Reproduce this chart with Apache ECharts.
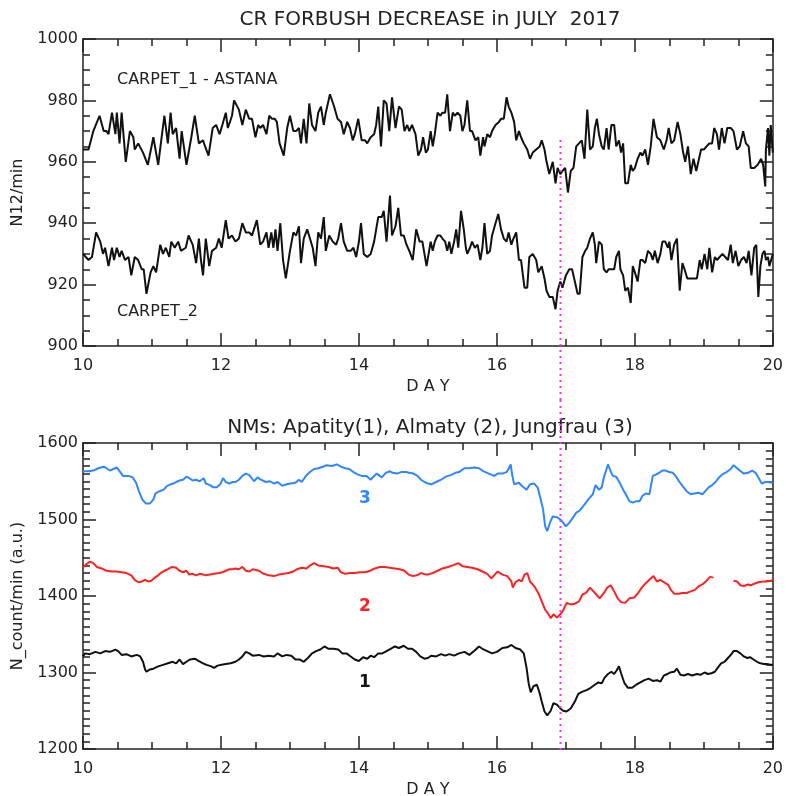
<!DOCTYPE html>
<html>
<head>
<meta charset="utf-8" />
<title>CR FORBUSH DECREASE in JULY 2017</title>
<script src="https://cdn.jsdelivr.net/npm/echarts@6/dist/echarts.min.js"></script>
<style>
	html, body { margin: 0; padding: 0; background: #fff; height: 796px; overflow: hidden; }
	#top { width: 786px; height: 400px; }
	#bot { width: 786px; height: 430px; }
</style>
</head>
<body>
<div id="top"></div>
<div id="bot"></div>
<script>
// CARPET detectors, N12/min, [day of July, value]
var carpet1 = [[10.00,964],[10.08,964],[10.15,970],[10.24,975],[10.30,970],[10.34,970],[10.37,969],[10.42,976],[10.47,969],[10.49,976],[10.53,966],[10.56,976],[10.62,960],[10.68,970],[10.73,968],[10.75,964],[10.80,966],[10.87,963],[10.94,959],[11.02,968],[11.09,959],[11.14,968],[11.18,975],[11.23,966],[11.27,976],[11.30,969],[11.35,971],[11.40,961],[11.43,970],[11.50,959],[11.57,968],[11.62,975],[11.68,966],[11.74,967],[11.77,965],[11.82,962],[11.88,971],[11.93,972],[11.98,969],[12.02,972],[12.07,976],[12.10,971],[12.16,975],[12.19,980],[12.26,977],[12.31,972],[12.36,977],[12.41,974],[12.45,974],
	[12.50,968],[12.54,972],[12.57,971],[12.61,972],[12.66,969],[12.70,975],[12.74,974],[12.78,974],[12.81,973],[12.85,966],[12.91,962],[12.96,971],[13.00,975],[13.05,970],[13.09,970],[13.13,971],[13.16,966],[13.20,974],[13.24,966],[13.28,979],[13.32,972],[13.37,970],[13.41,976],[13.45,978],[13.49,972],[13.52,976],[13.58,982],[13.64,978],[13.69,974],[13.74,973],[13.78,969],[13.83,973],[13.87,971],[13.91,967],[13.94,969],[13.99,974],[14.04,967],[14.09,967],[14.12,966],[14.17,968],[14.22,969],[14.25,972],[14.28,978],[14.32,965],[14.36,980],[14.40,979],[14.44,970],[14.48,981],[14.53,971],[14.58,978],[14.62,977],[14.66,970],[14.70,972],[14.73,970],[14.77,972],[14.82,969],[14.86,962],[14.90,964],[14.93,968],[14.97,963],
	[15.00,964],[15.04,970],[15.07,965],[15.10,969],[15.14,976],[15.18,975],[15.21,976],[15.25,976],[15.28,982],[15.32,970],[15.36,976],[15.39,975],[15.43,976],[15.47,975],[15.50,970],[15.53,972],[15.57,980],[15.61,970],[15.64,970],[15.69,967],[15.73,968],[15.76,962],[15.80,968],[15.82,965],[15.86,969],[15.90,968],[15.93,970],[15.98,972],[16.03,973],[16.06,974],[16.10,974],[16.14,981],[16.17,978],[16.21,976],[16.25,973],[16.28,967],[16.32,970],[16.35,968],[16.39,966],[16.44,964],[16.48,961],[16.52,963],[16.57,964],[16.62,965],[16.65,967],[16.69,964],[16.72,960],[16.76,956],[16.81,960],[16.85,953],[16.88,958],[16.92,956],[16.95,957],[16.99,958],[17.03,950],[17.07,957],[17.11,958],[17.15,965],[17.19,966],[17.23,967],[17.27,961],[17.31,977],[17.35,964],[17.39,965],[17.42,971],[17.45,974],[17.48,969],[17.52,965],
	[17.55,964],[17.59,971],[17.62,964],[17.66,972],[17.70,972],[17.73,965],[17.77,967],[17.80,963],[17.83,966],[17.86,953],[17.90,953],[17.94,959],[17.97,957],[18.00,958],[18.04,961],[18.08,963],[18.11,962],[18.15,964],[18.19,959],[18.23,965],[18.27,974],[18.32,968],[18.37,967],[18.42,964],[18.46,967],[18.49,971],[18.53,966],[18.57,967],[18.62,973],[18.66,969],[18.70,963],[18.73,960],[18.77,965],[18.81,956],[18.85,961],[18.89,957],[18.93,961],[18.96,964],[19.00,964],[19.04,965],[19.08,966],[19.12,966],[19.15,971],[19.19,969],[19.22,964],[19.26,971],[19.30,966],[19.34,971],[19.39,971],[19.43,970],[19.48,964],[19.52,965],[19.57,970],[19.61,966],[19.65,965],[19.68,958],[19.73,958],[19.78,959],[19.83,961],[19.86,959],[19.89,952],[19.90,964],[19.93,971],[19.95,962],[19.97,972],[20.00,963]];

var carpet2 = [[10.00,930],[10.08,928],[10.13,929],[10.19,937],[10.25,934],[10.29,930],[10.32,932],[10.37,926],[10.42,932],[10.45,928],[10.49,932],[10.53,929],[10.56,931],[10.61,928],[10.66,929],[10.70,923],[10.75,929],[10.80,928],[10.85,925],[10.88,925],[10.92,917],[10.98,924],[11.02,926],[11.06,924],[11.12,933],[11.16,930],[11.20,932],[11.25,929],[11.28,934],[11.33,932],[11.38,934],[11.42,931],[11.49,932],[11.53,936],[11.59,933],[11.64,927],[11.68,935],[11.71,928],[11.74,923],[11.78,935],[11.83,926],[11.87,931],[11.93,932],[11.97,935],[12.01,932],[12.07,941],[12.11,935],[12.16,936],[12.21,934],[12.26,935],[12.31,940],[12.36,937],[12.41,937],[12.45,936],
	[12.52,941],[12.57,933],[12.61,934],[12.66,937],[12.69,932],[12.73,937],[12.76,932],[12.79,938],[12.82,931],[12.86,940],[12.90,928],[12.94,922],[13.00,931],[13.05,937],[13.09,936],[13.13,939],[13.16,927],[13.20,935],[13.25,938],[13.29,935],[13.33,932],[13.37,926],[13.41,937],[13.45,935],[13.49,942],[13.52,931],[13.57,936],[13.62,934],[13.67,933],[13.70,935],[13.74,940],[13.78,934],[13.83,931],[13.88,931],[13.92,932],[13.96,929],[14.00,934],[14.03,940],[14.07,930],[14.12,929],[14.17,930],[14.22,934],[14.28,942],[14.33,942],[14.36,944],[14.40,934],[14.45,949],[14.48,936],[14.53,939],[14.57,945],[14.61,936],[14.65,936],[14.69,933],[14.73,931],[14.78,928],[14.83,938],[14.88,934],[14.92,934],[14.98,926],
	[15.04,934],[15.07,931],[15.10,934],[15.14,936],[15.18,936],[15.21,935],[15.25,934],[15.28,931],[15.31,934],[15.34,930],[15.38,934],[15.41,938],[15.44,932],[15.48,944],[15.52,938],[15.55,932],[15.57,930],[15.61,932],[15.64,934],[15.68,932],[15.72,933],[15.76,928],[15.79,932],[15.82,940],[15.86,930],[15.90,931],[15.93,936],[15.98,940],[16.02,943],[16.06,938],[16.10,935],[16.14,934],[16.17,937],[16.21,933],[16.24,935],[16.28,937],[16.32,928],[16.35,928],[16.40,919],[16.44,919],[16.47,929],[16.52,930],[16.57,928],[16.60,924],[16.65,926],[16.69,922],[16.72,918],[16.76,916],[16.81,916],[16.85,912],[16.88,918],[16.92,921],[16.95,919],[17.00,923],[17.05,925],[17.09,925],[17.13,921],[17.17,917],[17.20,917],[17.24,929],[17.28,931],[17.31,932],[17.35,935],[17.39,937],[17.42,933],[17.44,927],[17.48,934],[17.52,933],
	[17.55,925],[17.59,924],[17.62,925],[17.66,925],[17.70,925],[17.73,929],[17.77,931],[17.79,925],[17.83,923],[17.86,918],[17.90,919],[17.94,914],[17.97,926],[18.00,924],[18.04,921],[18.08,928],[18.11,928],[18.15,927],[18.19,931],[18.23,930],[18.26,928],[18.29,931],[18.33,927],[18.37,930],[18.40,934],[18.44,934],[18.48,932],[18.50,934],[18.53,928],[18.57,933],[18.61,935],[18.65,918],[18.69,927],[18.72,925],[18.76,922],[18.80,922],[18.85,922],[18.90,922],[18.94,928],[18.97,925],[19.01,930],[19.05,925],[19.08,932],[19.12,924],[19.16,929],[19.19,928],[19.23,929],[19.27,930],[19.31,929],[19.35,928],[19.39,933],[19.42,927],[19.46,931],[19.50,926],[19.54,928],[19.58,929],[19.62,927],[19.65,931],[19.69,923],[19.73,932],[19.76,933],[19.79,916],[19.82,926],[19.85,930],[19.88,931],[19.90,928],[19.93,929],[19.95,926],[20.00,930]];

// neutron monitors, counts/min (a.u.)
var apatity = [[10.00,1321],[10.03,1325],[10.10,1324],[10.18,1327],[10.25,1325],[10.32,1328],[10.39,1327],[10.47,1330],[10.51,1328],[10.56,1323],[10.63,1324],[10.70,1321],[10.78,1323],[10.83,1321],[10.87,1314],[10.90,1304],[10.92,1301],[10.97,1304],[11.02,1305],[11.09,1308],[11.16,1310],[11.23,1312],[11.30,1314],[11.35,1312],[11.40,1317],[11.45,1311],[11.50,1314],[11.55,1317],[11.62,1318],[11.68,1315],[11.74,1312],[11.79,1310],[11.86,1308],[11.90,1306],[11.95,1309],[12.01,1310],[12.07,1311],[12.14,1312],[12.21,1314],[12.26,1317],[12.31,1321],[12.36,1327],[12.41,1325],[12.46,1322],
	[12.55,1323],[12.62,1321],[12.69,1322],[12.77,1321],[12.82,1325],[12.89,1321],[12.95,1323],[13.02,1322],[13.08,1317],[13.14,1317],[13.20,1314],[13.26,1319],[13.32,1325],[13.38,1328],[13.44,1330],[13.50,1334],[13.56,1331],[13.63,1331],[13.70,1330],[13.76,1325],[13.82,1325],[13.88,1321],[13.94,1317],[14.00,1315],[14.06,1320],[14.12,1318],[14.17,1322],[14.22,1320],[14.28,1325],[14.34,1325],[14.40,1328],[14.46,1331],[14.52,1334],[14.58,1332],[14.65,1335],[14.71,1331],[14.77,1331],[14.83,1327],[14.89,1321],[14.95,1318],
	[15.00,1319],[15.05,1322],[15.12,1321],[15.19,1324],[15.25,1322],[15.31,1324],[15.38,1322],[15.45,1325],[15.53,1327],[15.60,1323],[15.67,1328],[15.74,1334],[15.79,1331],[15.86,1328],[15.93,1325],[16.00,1327],[16.08,1332],[16.15,1333],[16.21,1336],[16.27,1332],[16.34,1330],[16.39,1325],[16.43,1306],[16.46,1286],[16.49,1274],[16.53,1282],[16.58,1284],[16.62,1273],[16.65,1262],[16.69,1249],[16.73,1244],[16.78,1250],[16.82,1260],[16.87,1258],[16.92,1253],[16.96,1250],[17.01,1249],[17.07,1253],[17.13,1262],[17.18,1272],[17.24,1275],[17.30,1277],[17.36,1280],[17.42,1284],[17.47,1287],
	[17.52,1286],[17.56,1293],[17.61,1298],[17.66,1301],[17.70,1298],[17.73,1302],[17.77,1308],[17.80,1299],[17.85,1286],[17.90,1280],[17.96,1280],[18.02,1284],[18.08,1287],[18.14,1290],[18.20,1292],[18.26,1289],[18.32,1290],[18.37,1288],[18.42,1296],[18.47,1298],[18.51,1300],[18.57,1301],[18.61,1305],[18.66,1297],[18.71,1296],[18.77,1298],[18.83,1296],[18.90,1298],[18.95,1297],[19.01,1300],[19.06,1298],[19.11,1299],[19.16,1301],[19.20,1306],[19.25,1312],[19.30,1314],[19.35,1319],[19.40,1324],[19.43,1328],[19.48,1328],[19.53,1325],[19.58,1321],[19.63,1319],[19.67,1320],[19.72,1317],[19.77,1314],[19.82,1312],[19.87,1311],[19.91,1311],[19.97,1310],[20.00,1310]];

var almaty = [[10.00,1437],[10.03,1440],[10.10,1445],[10.15,1443],[10.20,1438],[10.27,1436],[10.34,1433],[10.42,1432],[10.49,1432],[10.56,1431],[10.63,1430],[10.70,1427],[10.75,1421],[10.80,1418],[10.85,1419],[10.90,1421],[10.94,1419],[10.99,1420],[11.04,1424],[11.09,1427],[11.14,1431],[11.18,1433],[11.23,1435],[11.29,1438],[11.35,1437],[11.40,1433],[11.45,1431],[11.50,1433],[11.54,1428],[11.59,1429],[11.64,1427],[11.69,1429],[11.74,1428],[11.78,1427],[11.84,1428],[11.90,1429],[11.97,1430],[12.02,1431],[12.07,1433],[12.12,1435],[12.17,1435],[12.21,1436],[12.26,1435],[12.31,1438],[12.36,1433],[12.41,1432],[12.46,1435],
	[12.55,1433],[12.62,1429],[12.69,1427],[12.77,1426],[12.84,1428],[12.91,1429],[12.98,1430],[13.05,1432],[13.10,1435],[13.17,1437],[13.24,1436],[13.29,1440],[13.35,1443],[13.41,1440],[13.49,1439],[13.56,1438],[13.63,1436],[13.69,1437],[13.74,1431],[13.80,1429],[13.87,1430],[13.94,1430],[14.01,1431],[14.09,1431],[14.16,1433],[14.23,1436],[14.30,1438],[14.37,1438],[14.45,1437],[14.52,1436],[14.59,1435],[14.66,1433],[14.72,1428],[14.78,1426],[14.84,1427],[14.90,1430],[14.97,1428],
	[15.00,1428],[15.07,1430],[15.14,1433],[15.21,1436],[15.29,1438],[15.36,1440],[15.44,1443],[15.50,1439],[15.57,1438],[15.64,1437],[15.72,1435],[15.79,1432],[15.86,1429],[15.92,1423],[15.97,1428],[16.01,1432],[16.08,1428],[16.15,1426],[16.21,1419],[16.23,1411],[16.27,1418],[16.32,1421],[16.36,1419],[16.40,1428],[16.44,1430],[16.48,1419],[16.54,1413],[16.60,1404],[16.65,1393],[16.70,1382],[16.75,1376],[16.78,1371],[16.82,1376],[16.87,1372],[16.92,1376],[16.96,1381],[17.01,1391],[17.07,1389],[17.13,1390],[17.19,1393],[17.24,1402],[17.29,1404],[17.35,1411],[17.40,1406],[17.44,1402],[17.49,1397],
	[17.55,1404],[17.60,1411],[17.65,1414],[17.70,1406],[17.75,1397],[17.80,1392],[17.86,1391],[17.92,1397],[17.99,1398],[18.04,1403],[18.10,1411],[18.16,1417],[18.23,1423],[18.27,1426],[18.32,1419],[18.37,1421],[18.42,1418],[18.48,1415],[18.52,1408],[18.57,1403],[18.63,1403],[18.69,1404],[18.75,1404],[18.81,1406],[18.87,1408],[18.93,1413],[18.99,1416],[19.04,1420],[19.09,1425],[19.14,1424],[19.28,null],[19.43,1420],[19.48,1419],[19.53,1414],[19.58,1413],[19.64,1415],[19.68,1414],[19.73,1416],[19.79,1418],[19.86,1419],[19.91,1419],[19.97,1420],[20.00,1421]];

var jungfrau = [[10.00,1563],[10.08,1563],[10.15,1564],[10.22,1567],[10.30,1569],[10.34,1567],[10.39,1564],[10.44,1566],[10.49,1568],[10.54,1562],[10.58,1557],[10.66,1557],[10.72,1555],[10.77,1548],[10.81,1537],[10.86,1526],[10.91,1521],[10.97,1521],[11.02,1526],[11.05,1534],[11.11,1537],[11.17,1539],[11.22,1544],[11.27,1546],[11.31,1547],[11.35,1549],[11.40,1551],[11.45,1552],[11.50,1556],[11.54,1554],[11.59,1551],[11.64,1552],[11.69,1550],[11.75,1554],[11.78,1547],[11.84,1545],[11.89,1542],[11.94,1542],[11.99,1546],[12.03,1554],[12.07,1549],[12.12,1547],[12.17,1549],[12.21,1549],[12.26,1552],[12.31,1557],[12.36,1560],[12.41,1558],
	[12.48,1550],[12.53,1555],[12.58,1552],[12.65,1549],[12.71,1550],[12.77,1547],[12.82,1549],[12.89,1544],[12.95,1546],[13.01,1547],[13.08,1548],[13.13,1552],[13.17,1549],[13.24,1558],[13.29,1562],[13.35,1566],[13.41,1567],[13.48,1569],[13.53,1571],[13.61,1570],[13.68,1572],[13.74,1569],[13.80,1567],[13.86,1566],[13.92,1562],[13.98,1559],[14.04,1557],[14.11,1557],[14.17,1552],[14.22,1557],[14.26,1560],[14.33,1555],[14.39,1561],[14.45,1563],[14.49,1561],[14.55,1560],[14.61,1562],[14.68,1562],[14.73,1561],[14.79,1560],[14.85,1557],[14.90,1552],[14.95,1549],
	[15.00,1547],[15.05,1546],[15.12,1549],[15.19,1552],[15.26,1556],[15.33,1558],[15.40,1561],[15.45,1562],[15.53,1567],[15.60,1567],[15.67,1568],[15.74,1567],[15.81,1563],[15.88,1560],[15.96,1557],[16.01,1560],[16.08,1560],[16.14,1562],[16.17,1566],[16.20,1572],[16.22,1559],[16.25,1546],[16.32,1548],[16.36,1544],[16.43,1539],[16.48,1546],[16.54,1547],[16.59,1542],[16.63,1528],[16.67,1513],[16.70,1491],[16.73,1485],[16.77,1496],[16.81,1504],[16.87,1503],[16.92,1500],[16.96,1496],[17.00,1491],[17.05,1496],[17.10,1502],[17.15,1509],[17.19,1511],[17.24,1516],[17.29,1522],[17.34,1528],[17.39,1533],[17.43,1545],[17.48,1539],
	[17.52,1542],[17.55,1555],[17.59,1566],[17.61,1572],[17.65,1563],[17.68,1557],[17.73,1556],[17.78,1548],[17.83,1539],[17.88,1531],[17.92,1524],[17.97,1522],[18.02,1524],[18.07,1524],[18.11,1531],[18.16,1534],[18.21,1533],[18.26,1557],[18.31,1559],[18.35,1561],[18.40,1564],[18.45,1564],[18.50,1562],[18.55,1561],[18.59,1557],[18.64,1550],[18.69,1544],[18.75,1537],[18.81,1533],[18.86,1534],[18.92,1535],[18.98,1533],[19.03,1538],[19.07,1542],[19.12,1545],[19.17,1549],[19.22,1555],[19.27,1559],[19.33,1562],[19.39,1566],[19.43,1571],[19.47,1568],[19.52,1564],[19.58,1560],[19.64,1561],[19.70,1564],[19.75,1561],[19.79,1555],[19.84,1547],[19.89,1549],[19.94,1549],[19.97,1548],[20.00,1549]];

var forbushDay = 16.88;   // onset marker (dotted)
var dayRange = [10, 20];
var topRange = [900, 1000];
var botRange = [1200, 1600];

var FONT = 'DejaVu Sans';
var INK = '#222';

function plain(v) { return '' + v; }

// box axes with mirrored ticks, IDL style: ticks inside
function xAx(pos, labels) {
	return {
		type: 'value', gridIndex: 0, position: pos,
		min: dayRange[0], max: dayRange[1], interval: 2,
		axisLine: { show: true, onZero: false, lineStyle: { color: INK, width: 1.5 } },
		axisTick: { show: true, inside: true, length: 13, lineStyle: { color: INK, width: 1.5 } },
		minorTick: { show: true, splitNumber: 4, length: 7, lineStyle: { color: INK, width: 1.5 } },
		axisLabel: { show: labels, color: INK, fontSize: 16, fontFamily: FONT, margin: 12, formatter: plain },
		splitLine: { show: false },
		name: labels ? 'D A Y' : '', nameLocation: 'middle', nameGap: 33,
		nameTextStyle: { color: INK, fontSize: 16, fontFamily: FONT }
	};
}
function yAx(pos, rng, step, minor, labels, name) {
	var ax = {
		type: 'value', gridIndex: 0, position: pos,
		min: rng[0], max: rng[1], interval: step,
		axisLine: { show: true, onZero: false, lineStyle: { color: INK, width: 1.5 } },
		axisTick: { show: true, inside: true, length: 13, lineStyle: { color: INK, width: 1.5 } },
		axisLabel: { show: labels, color: INK, fontSize: 16, fontFamily: FONT, margin: 5, formatter: plain },
		splitLine: { show: false },
		name: labels ? name : '', nameLocation: 'middle', nameGap: 57,
		nameTextStyle: { color: INK, fontSize: 16, fontFamily: FONT }
	};
	if (minor) {
		ax.minorTick = { show: true, splitNumber: minor, length: 7, lineStyle: { color: INK, width: 1.5 } };
	}
	return ax;
}
// tick-only axis, stands in for dense minor ticks
function yTicks(pos, rng, step) {
	return {
		type: 'value', gridIndex: 0, position: pos,
		min: rng[0], max: rng[1], interval: step,
		axisLine: { show: false },
		axisTick: { show: true, inside: true, length: 7, lineStyle: { color: INK, width: 1.5 } },
		axisLabel: { show: false },
		splitLine: { show: false }
	};
}
function curve(data, color) {
	return {
		type: 'line', data: data, xAxisIndex: 0, yAxisIndex: 0,
		showSymbol: false, connectNulls: false, silent: true,
		lineStyle: { color: color, width: 2 }
	};
}
function label(text, x, y, size, color, bold, center) {
	return { type: 'text', x: x, y: y, style: { text: text, fill: color, fontSize: size, fontFamily: FONT,
		fontWeight: bold ? 'bold' : 'normal', align: center ? 'center' : 'left', verticalAlign: 'middle' } };
}
// one panel: box grid + hidden overlay grid for the dotted onset line
function panel(gridTop, gridH, yRange, yStep, yMinor, yMinorStep, yName, lines, markTop, markH, texts) {
	var ys = [yAx('left', yRange, yStep, yMinor, true, yName), yAx('right', yRange, yStep, yMinor, false),
		{ type: 'value', gridIndex: 1, min: 0, max: 1, show: false }];
	if (yMinorStep) {
		ys.push(yTicks('left', yRange, yMinorStep), yTicks('right', yRange, yMinorStep));
	}
	return {
		animation: false,
		grid: [
			{ left: 83, top: gridTop, width: 694, height: gridH },
			{ left: 83, top: markTop, width: 694, height: markH }
		],
		xAxis: [xAx('bottom', true), xAx('top', false),
			{ type: 'value', gridIndex: 1, min: dayRange[0], max: dayRange[1], show: false }],
		yAxis: ys,
		series: lines.concat([{
			type: 'line', xAxisIndex: 2, yAxisIndex: 2, silent: true, showSymbol: false,
			data: [[forbushDay, 0], [forbushDay, 1]],
			lineStyle: { color: '#ff33ff', width: 2, type: [2, 4] }
		}]),
		graphic: texts
	};
}

echarts.init(document.getElementById('top')).setOption(panel(
	39, 307, topRange, 20, 4, 0, 'N12/min',
	[curve(carpet1, '#111'), curve(carpet2, '#111')],
	138, 262,
	[label('CR FORBUSH DECREASE in JULY  2017', 430, 20, 20, INK, false, true),
	 label('CARPET_1 - ASTANA', 117, 80, 16, INK),
	 label('CARPET_2', 117, 312, 16, INK)]
));
echarts.init(document.getElementById('bot')).setOption(panel(
	43, 306, botRange, 100, 0, 10, 'N_count/min (a.u.)',
	[curve(jungfrau, '#2f86ff'), curve(almaty, '#ff2222'), curve(apatity, '#111')],
	0, 350,
	[label('NMs: Apatity(1), Almaty (2), Jungfrau (3)', 430, 28, 20, INK, false, true),
	 label('3', 365, 99, 17, '#2f86ff', true, true),
	 label('2', 365, 207, 17, '#ff2222', true, true),
	 label('1', 365, 283, 17, '#111', true, true)]
));
</script>
</body>
</html>
